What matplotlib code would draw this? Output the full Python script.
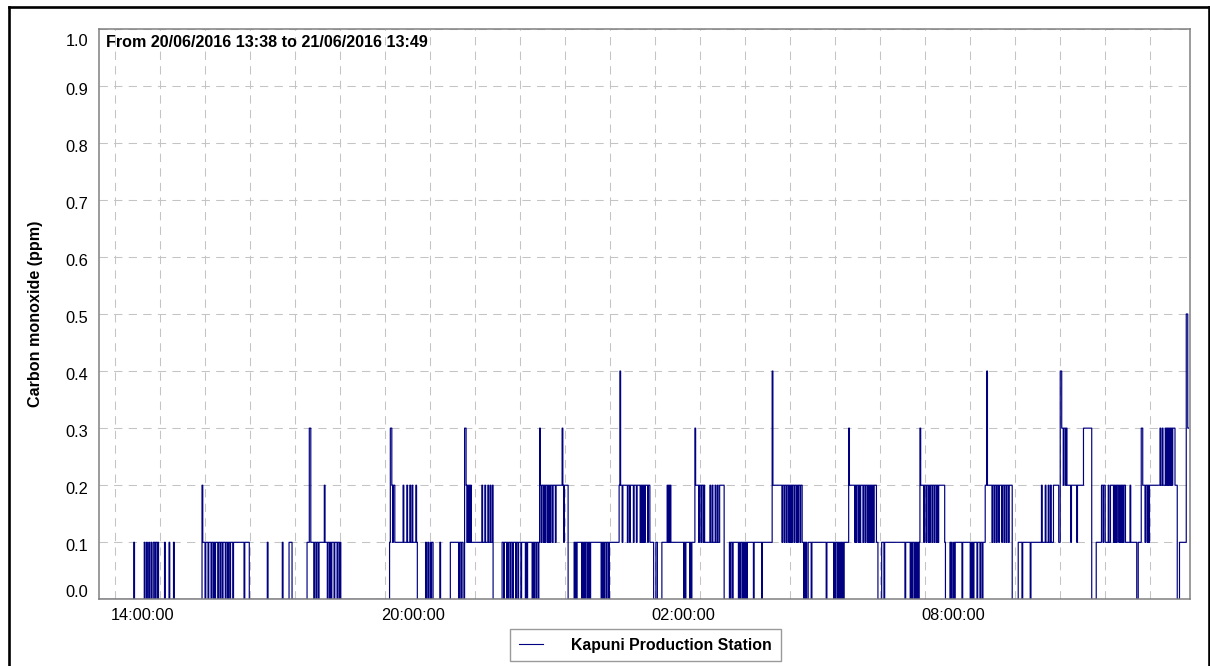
import pandas as pd
import matplotlib
matplotlib.use("Agg")
import matplotlib.pyplot as plt
import matplotlib.dates as mdates
from matplotlib.lines import Line2D
from matplotlib.font_manager import FontProperties
from matplotlib.transforms import ScaledTranslation

# Data ---------------------------------------------
start_time = "2016-06-20 13:38"
axis_span_min = 1455
title = "From 20/06/2016 13:38 to 21/06/2016 13:49"
series_name = "Kapuni Production Station"
y_title = "Carbon monoxide (ppm)"
y_ticks = [0.0, 0.1, 0.2, 0.3, 0.4, 0.5, 0.6, 0.7, 0.8, 0.9, 1.0]
label_hours = [14, 20, 2, 8]

# CO readings as (minutes after 13:38, ppm) at each change of level
co_steps = [
    (0, 0.0),
    (47, 0.1), (48, 0.0), (61, 0.1), (62, 0.0), (64, 0.1), (65, 0.0),
    (67, 0.1), (68, 0.0), (70, 0.1), (71, 0.0), (73, 0.1), (75, 0.0),
    (76, 0.1), (78, 0.0), (79, 0.1), (80, 0.0),
    (88, 0.1), (89, 0.0), (94, 0.1), (95, 0.0), (100, 0.1), (101, 0.0),
    (138, 0.2), (139, 0.1), (142, 0.0), (143, 0.1), (146, 0.0), (147, 0.1),
    (150, 0.0), (151, 0.1), (153, 0.0), (154, 0.1), (155, 0.0), (156, 0.1),
    (159, 0.0), (160, 0.1), (162, 0.0), (163, 0.1), (165, 0.0), (166, 0.1),
    (169, 0.0), (170, 0.1), (172, 0.0), (173, 0.1), (175, 0.0), (176, 0.1),
    (179, 0.0), (180, 0.1), (194, 0.0), (195, 0.1), (201, 0.0),
    (225, 0.1), (226, 0.0), (245, 0.1), (246, 0.0), (254, 0.1), (258, 0.0),
    (278, 0.1), (281, 0.3), (283, 0.1), (287, 0.0), (288, 0.1), (290, 0.0),
    (291, 0.1), (293, 0.0), (294, 0.1), (301, 0.2), (302, 0.1), (305, 0.0),
    (306, 0.1), (308, 0.0), (309, 0.1), (310, 0.0), (311, 0.1), (314, 0.0),
    (315, 0.1), (318, 0.0), (319, 0.1), (321, 0.0), (322, 0.1), (323, 0.0),
    (388, 0.1), (389, 0.3), (391, 0.2), (392, 0.1), (393, 0.2), (395, 0.1),
    (406, 0.2), (407, 0.1), (411, 0.2), (412, 0.1), (415, 0.2), (416, 0.1),
    (418, 0.2), (419, 0.1), (423, 0.2), (424, 0.1), (425, 0.0),
    (436, 0.1), (437, 0.0), (439, 0.1), (440, 0.0), (442, 0.1), (443, 0.0),
    (444, 0.1), (446, 0.0), (455, 0.1), (456, 0.0),
    (469, 0.1), (480, 0.0), (481, 0.1), (483, 0.0), (484, 0.1), (486, 0.0),
    (488, 0.3), (490, 0.2), (491, 0.1), (492, 0.2), (493, 0.1), (494, 0.2),
    (495, 0.1), (496, 0.2), (497, 0.1), (511, 0.2), (512, 0.1), (515, 0.2),
    (516, 0.1), (519, 0.2), (520, 0.1), (522, 0.2), (523, 0.1), (525, 0.2),
    (526, 0.0),
    (538, 0.1), (540, 0.0), (541, 0.1), (544, 0.0), (545, 0.1), (546, 0.0),
    (547, 0.1), (549, 0.0), (550, 0.1), (552, 0.0), (553, 0.1), (556, 0.0),
    (557, 0.1), (559, 0.0), (560, 0.1), (563, 0.0), (564, 0.1), (569, 0.0),
    (570, 0.1), (571, 0.0), (572, 0.1), (578, 0.0), (579, 0.1), (580, 0.0),
    (581, 0.1), (583, 0.0), (584, 0.1), (586, 0.0),
    (587, 0.1), (588, 0.3), (589, 0.2), (590, 0.1), (591, 0.2), (593, 0.1),
    (594, 0.2), (595, 0.1), (596, 0.2), (598, 0.1), (599, 0.2), (600, 0.1),
    (601, 0.2), (602, 0.1), (603, 0.2), (605, 0.1), (606, 0.2), (609, 0.1),
    (610, 0.2), (618, 0.3), (619, 0.2), (620, 0.1), (621, 0.2), (626, 0.0),
    (634, 0.1), (635, 0.0), (636, 0.1), (637, 0.0), (638, 0.1), (644, 0.0),
    (645, 0.1), (646, 0.0), (647, 0.1), (648, 0.0), (649, 0.1), (651, 0.0),
    (652, 0.1), (653, 0.0), (654, 0.1), (655, 0.0), (656, 0.1), (670, 0.0),
    (671, 0.1), (672, 0.0), (673, 0.1), (674, 0.0), (675, 0.1), (677, 0.0),
    (678, 0.1), (680, 0.0), (681, 0.1),
    (694, 0.2), (695, 0.4), (696, 0.2), (698, 0.1), (699, 0.2), (705, 0.1),
    (706, 0.2), (708, 0.1), (709, 0.2), (713, 0.1), (714, 0.2), (717, 0.1),
    (718, 0.2), (722, 0.1), (723, 0.2), (724, 0.1), (725, 0.2), (726, 0.1),
    (727, 0.2), (728, 0.1), (729, 0.2), (732, 0.1), (733, 0.2), (735, 0.1),
    (740, 0.0), (743, 0.1), (745, 0.0), (751, 0.1), (758, 0.2), (759, 0.1),
    (760, 0.2), (761, 0.1), (762, 0.2), (763, 0.1), (780, 0.0), (781, 0.1),
    (782, 0.0), (783, 0.1), (788, 0.0), (789, 0.1), (790, 0.0), (791, 0.1),
    (795, 0.3), (796, 0.2), (800, 0.1), (801, 0.2), (803, 0.1), (804, 0.2),
    (806, 0.1), (807, 0.2), (808, 0.1), (815, 0.2), (816, 0.1), (818, 0.2),
    (819, 0.1), (822, 0.2), (823, 0.1), (825, 0.2), (826, 0.1), (828, 0.2),
    (834, 0.0),
    (841, 0.1), (842, 0.0), (843, 0.1), (845, 0.0), (846, 0.1), (853, 0.0),
    (854, 0.1), (855, 0.0), (856, 0.1), (858, 0.0), (859, 0.1), (860, 0.0),
    (861, 0.1), (862, 0.0), (863, 0.1), (864, 0.0), (865, 0.1), (873, 0.0),
    (874, 0.1), (884, 0.0), (885, 0.1),
    (898, 0.4), (899, 0.2), (911, 0.1), (912, 0.2), (914, 0.1), (915, 0.2),
    (917, 0.1), (918, 0.2), (920, 0.1), (921, 0.2), (922, 0.1), (923, 0.2),
    (924, 0.1), (925, 0.2), (927, 0.1), (928, 0.2), (930, 0.1), (931, 0.2),
    (932, 0.1), (933, 0.2), (935, 0.1), (936, 0.2), (938, 0.1), (940, 0.0),
    (941, 0.1), (942, 0.0), (943, 0.1), (944, 0.0), (946, 0.1), (950, 0.0),
    (951, 0.1), (970, 0.0), (971, 0.1), (980, 0.0), (981, 0.1), (982, 0.0),
    (983, 0.1), (985, 0.0), (986, 0.1), (987, 0.0), (988, 0.1), (989, 0.0),
    (990, 0.1), (991, 0.0), (992, 0.1), (993, 0.0), (994, 0.1),
    (1000, 0.3), (1001, 0.2), (1008, 0.1), (1009, 0.2), (1010, 0.1), (1011, 0.2),
    (1013, 0.1), (1014, 0.2), (1015, 0.1), (1016, 0.2), (1019, 0.1), (1020, 0.2),
    (1022, 0.1), (1023, 0.2), (1025, 0.1), (1026, 0.2), (1027, 0.1), (1028, 0.2),
    (1029, 0.1), (1030, 0.2), (1031, 0.1), (1032, 0.2), (1033, 0.1), (1034, 0.2),
    (1037, 0.1), (1039, 0.0),
    (1044, 0.1), (1047, 0.0), (1048, 0.1), (1075, 0.0), (1076, 0.1), (1082, 0.0),
    (1083, 0.1), (1084, 0.0), (1085, 0.1), (1087, 0.0), (1088, 0.1), (1089, 0.0),
    (1090, 0.1), (1091, 0.0), (1092, 0.1), (1093, 0.0), (1094, 0.1),
    (1095, 0.3), (1096, 0.2), (1100, 0.1), (1101, 0.2), (1103, 0.1), (1104, 0.2),
    (1106, 0.1), (1107, 0.2), (1108, 0.1), (1109, 0.2), (1111, 0.1), (1112, 0.2),
    (1114, 0.1), (1115, 0.2), (1117, 0.1), (1118, 0.2), (1119, 0.1), (1120, 0.2),
    (1128, 0.1), (1129, 0.0),
    (1135, 0.1), (1136, 0.0), (1137, 0.1), (1138, 0.0), (1140, 0.1), (1141, 0.0),
    (1142, 0.1), (1151, 0.0), (1152, 0.1), (1162, 0.0), (1163, 0.1), (1164, 0.0),
    (1165, 0.1), (1166, 0.0), (1167, 0.1), (1171, 0.0), (1172, 0.1), (1175, 0.0),
    (1176, 0.1), (1178, 0.0), (1179, 0.1),
    (1182, 0.2), (1184, 0.4), (1185, 0.2), (1191, 0.1), (1192, 0.2), (1194, 0.1),
    (1195, 0.2), (1197, 0.1), (1198, 0.2), (1200, 0.1), (1201, 0.2), (1204, 0.1),
    (1205, 0.2), (1207, 0.1), (1208, 0.2), (1210, 0.1), (1211, 0.2), (1213, 0.1),
    (1214, 0.2), (1218, 0.0),
    (1226, 0.1), (1231, 0.0), (1232, 0.1), (1242, 0.0), (1243, 0.1),
    (1257, 0.2), (1258, 0.1), (1262, 0.2), (1263, 0.1), (1266, 0.2), (1267, 0.1),
    (1269, 0.2), (1270, 0.1), (1273, 0.2), (1280, 0.1),
    (1282, 0.4), (1284, 0.3), (1286, 0.2), (1287, 0.3), (1289, 0.2), (1290, 0.3),
    (1291, 0.2), (1296, 0.1), (1297, 0.2), (1304, 0.1), (1305, 0.2),
    (1313, 0.3), (1324, 0.0), (1330, 0.1),
    (1337, 0.2), (1339, 0.1), (1340, 0.2), (1342, 0.1), (1346, 0.2), (1347, 0.1),
    (1349, 0.2), (1353, 0.1), (1354, 0.2), (1355, 0.1), (1356, 0.2), (1357, 0.1),
    (1358, 0.2), (1360, 0.1), (1361, 0.2), (1362, 0.1), (1363, 0.2), (1364, 0.1),
    (1365, 0.2), (1366, 0.1), (1367, 0.2), (1369, 0.1), (1375, 0.2), (1376, 0.1),
    (1384, 0.0), (1386, 0.1),
    (1390, 0.3), (1392, 0.2), (1395, 0.1), (1396, 0.2), (1398, 0.1), (1399, 0.2),
    (1400, 0.1), (1401, 0.2),
    (1415, 0.3), (1416, 0.2), (1418, 0.3), (1419, 0.2), (1422, 0.3), (1423, 0.2),
    (1424, 0.3), (1425, 0.2), (1426, 0.3), (1427, 0.2), (1428, 0.3), (1429, 0.2),
    (1430, 0.3), (1431, 0.2), (1432, 0.3), (1435, 0.2), (1438, 0.0), (1441, 0.1),
    (1450, 0.5), (1452, 0.3), (1453, 0.3),
]

# General Style ------------------------------------
plt.rcParams['font.family'] = ['Liberation Sans', 'DejaVu Sans']

fig = plt.figure(figsize=(12.1, 6.66), dpi=100)
W, H = 1210, 666
ax = fig.add_axes([98.5 / W, 1 - 599.4 / H, (1190 - 98.5) / W, (599.4 - 28.6) / H])

t0 = pd.Timestamp(start_time)
times = (t0 + pd.to_timedelta([m for m, _ in co_steps], unit="m")).to_pydatetime()
ppm = [v for _, v in co_steps]

line, = ax.plot(times, ppm, drawstyle="steps-post", color="#000080", lw=0.85)

# Axis limits ------------------------------------------
ax.set_xlim(t0.to_pydatetime(), (t0 + pd.Timedelta(minutes=axis_span_min)).to_pydatetime())
ax.set_ylim(0, 1.0)
ax.set_yticks(y_ticks)
ax.yaxis.set_major_formatter(plt.FormatStrFormatter("%.1f"))

ax.xaxis.set_major_locator(mdates.HourLocator(byhour=label_hours))
ax.xaxis.set_minor_locator(mdates.HourLocator())
ax.xaxis.set_major_formatter(mdates.DateFormatter("%H:%M:%S"))

ax.grid(True, which="both", color="#c4c4c4", linestyle=(0, (8, 6)), lw=0.75)
ax.set_axisbelow(True)

ax.tick_params(axis="both", which="both", length=0, labelsize=11.8, colors="black")
ax.tick_params(axis="x", pad=6)
ax.tick_params(axis="y", pad=7.5)

for side in ["left", "bottom", "top", "right"]:
    ax.spines[side].set_color("#808080")
    ax.spines[side].set_linewidth(1.1)

# tick label nudges, like the original renderer
shift_x = ScaledTranslation(0.28, 0, fig.dpi_scale_trans)
for lbl in ax.get_xticklabels():
    lbl.set_transform(lbl.get_transform() + shift_x)
ylbls = ax.get_yticklabels()
for i, lbl in enumerate(ylbls):
    if i == 0:
        dy = 8
    elif i == len(ylbls) - 1:
        dy = -11
    else:
        dy = -3
    lbl.set_transform(lbl.get_transform() + ScaledTranslation(0, dy / 100, fig.dpi_scale_trans))

# Annotations ------------------------------------------
ax.annotate(title, xy=(0, 1), xycoords="axes fraction", xytext=(5.4, -4.5),
            textcoords="offset points", ha="left", va="top",
            weight="bold", fontsize=11.6)

ax.set_ylabel(y_title, weight="bold", fontsize=11.6, va="center")
ax.yaxis.set_label_coords((35.5 - 98.5) / (1190 - 98.5), 0.5)

leg = fig.legend([line], [series_name], loc="upper center",
                 bbox_to_anchor=(645.5 / W, 1 - 629 / H), borderaxespad=0,
                 prop=FontProperties(weight="bold", size=11.4),
                 fancybox=False, framealpha=1, edgecolor="#9a9a9a",
                 handlelength=1.5, handletextpad=1.8, borderpad=0.55)
leg.get_frame().set_linewidth(1.0)
leg.legend_handles[0].set_linewidth(0.8)

# Outer frame -------------------------------------------
frame_kw = dict(transform=fig.transFigure, color="black", lw=1.9)
fig.add_artist(Line2D([8.7 / W, 8.7 / W], [0, 1 - 7 / H], **frame_kw))
fig.add_artist(Line2D([8.7 / W, 1208.5 / W], [1 - 7 / H, 1 - 7 / H], **frame_kw))
fig.add_artist(Line2D([1208.5 / W, 1208.5 / W], [0, 1 - 7 / H], **frame_kw))

# Save Plot -----------------------------------------------
fig.savefig("out.png", dpi=100)
